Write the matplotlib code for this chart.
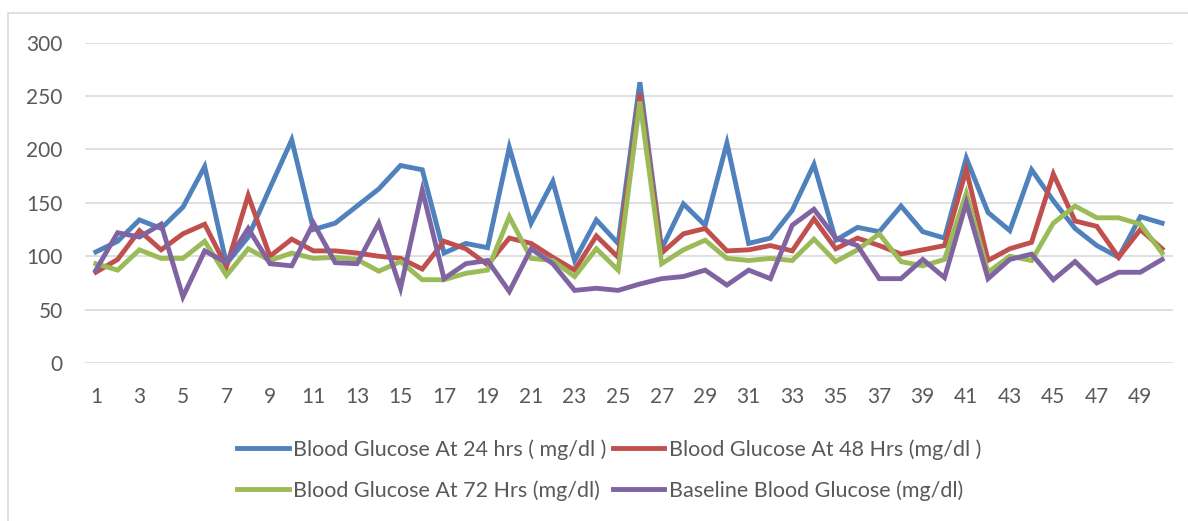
import matplotlib
matplotlib.use("Agg")
import matplotlib.pyplot as plt
from matplotlib.patches import Rectangle
import numpy as np

# values (50 subjects)
subjects = np.arange(1, 51)
bg_24 = [104, 114, 134, 126, 146, 184, 93, 118, 164, 209,
         125, 131, 147, 163, 185, 181, 103, 112, 108, 202,
         131, 170, 96, 134, 112, 263, 107, 149, 129, 206,
         112, 117, 143, 186, 115, 127, 123, 147, 123, 117,
         192, 141, 124, 181, 152, 126, 110, 99, 137, 131]
bg_48 = [85, 97, 124, 106, 121, 130, 90, 157, 100, 116,
         105, 105, 103, 100, 98, 88, 114, 107, 92, 117,
         112, 99, 87, 119, 99, 252, 103, 121, 126, 105,
         106, 110, 105, 135, 107, 117, 110, 102, 106, 110,
         181, 96, 107, 113, 177, 133, 128, 99, 125, 107]
bg_72 = [93, 87, 106, 98, 98, 114, 82, 107, 96, 103,
         98, 99, 97, 86, 95, 78, 78, 84, 87, 137,
         98, 96, 81, 107, 87, 245, 93, 106, 115, 98,
         96, 98, 96, 116, 95, 106, 121, 95, 91, 97,
         159, 85, 100, 96, 131, 147, 136, 136, 130, 103]
baseline = [87, 122, 118, 130, 62, 105, 94, 126, 93, 91,
            131, 94, 93, 131, 70, 162, 79, 93, 96, 67,
            107, 93, 68, 70, 68, 74, 79, 81, 87, 73,
            87, 79, 129, 144, 117, 110, 79, 79, 97, 80,
            150, 79, 97, 102, 78, 95, 75, 85, 85, 97]

labels = ["Blood Glucose At 24 hrs ( mg/dl )",
          "Blood Glucose At 48 Hrs (mg/dl )",
          "Blood Glucose At 72 Hrs (mg/dl)",
          "Baseline Blood Glucose (mg/dl)"]
colors = ["#4F81BD", "#C0504D", "#9BBB59", "#8064A2"]

plt.rcParams["font.family"] = ["Lato", "DejaVu Sans"]
txt = "#595959"

fig = plt.figure(figsize=(11.88, 5.21), dpi=100)
ax = fig.add_axes([85/1188, 1-363/521, 1088/1188, (363-42.7)/521])

lines = []
for ys, c, lab in zip([bg_24, bg_48, bg_72, baseline], colors, labels):
    ln, = ax.plot(subjects, ys, color=c, lw=3.5, label=lab, solid_joinstyle="miter")
    lines.append(ln)

ax.set_xlim(0.5, 50.5)
ax.set_ylim(0, 300)
ax.set_yticks(range(0, 301, 50))
ax.set_xticks(subjects[::2])
ax.tick_params(length=0, labelsize=15, colors=txt)
ax.tick_params(axis="x", pad=17)
ax.tick_params(axis="y", pad=16)
ax.grid(axis="y", color="#d9d9d9", lw=1.2)
ax.set_axisbelow(True)
for s in ax.spines.values():
    s.set_visible(False)

# legend: row 1 = 24h, 48h ; row 2 = 72h, baseline
order = [0, 2, 1, 3]
fig.legend([lines[i] for i in order], [labels[i] for i in order],
           ncol=2, loc="center", bbox_to_anchor=(609/1188, 1-470/521),
           frameon=False, fontsize=15.5, handlelength=2.4, handletextpad=0.2,
           columnspacing=0.3, labelspacing=0.95, labelcolor=txt)

fig.add_artist(Rectangle((8/1188, -0.1), 1.2, 1.1 - 13/521, transform=fig.transFigure,
                         fill=False, edgecolor="#d9d9d9", lw=1.2))

fig.savefig("out.png", dpi=100)
